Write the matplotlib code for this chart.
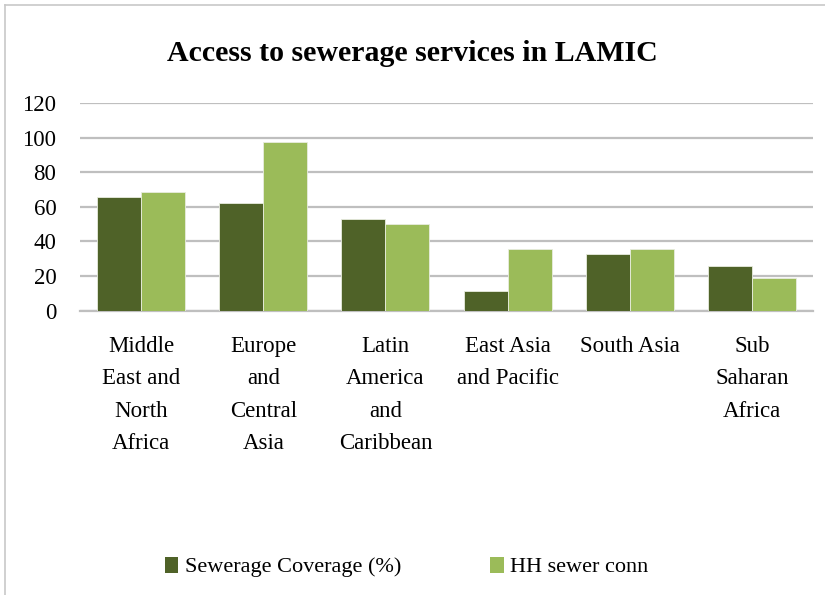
import numpy as np
import matplotlib.pyplot as plt
from matplotlib.patches import Patch
from matplotlib.lines import Line2D

plt.rcParams['font.family'] = ['Liberation Serif', 'DejaVu Serif']

# data
regions = ['Middle\nEast and\nNorth\nAfrica', 'Europe\nand\nCentral\nAsia',
           'Latin\nAmerica\nand\nCaribbean', 'East Asia\nand Pacific',
           'South Asia', 'Sub\nSaharan\nAfrica']
coverage = [66, 62, 53, 11.5, 33, 25.7]      # Sewerage Coverage (%)
hh_conn = [68.7, 97.7, 50, 35.6, 35.5, 18.8]  # HH sewer conn

dark = '#4F6228'
light = '#9BBB59'

fig = plt.figure(figsize=(8.25, 5.95), dpi=100)
ax = fig.add_axes([0.097, 0.478, 0.8885, 0.3486])

x = np.arange(len(regions))
w = 0.36
ax.bar(x - w/2, coverage, w, color=dark, edgecolor='#e8ecdf', linewidth=0.6, zorder=3)
ax.bar(x + w/2, hh_conn, w, color=light, edgecolor='#e8ecdf', linewidth=0.6, zorder=3)

ax.set_xlim(-0.5, len(regions) - 0.5)
ax.set_ylim(0, 120)
ax.set_yticks(range(0, 121, 20))
ax.yaxis.grid(True, color='#BFBFBF', linewidth=1.6, zorder=0)
ax.set_axisbelow(True)
for s in ['top', 'right', 'left']:
    ax.spines[s].set_visible(False)
ax.spines['bottom'].set_color('#BFBFBF')
ax.spines['bottom'].set_linewidth(1.6)
ax.tick_params(axis='y', length=0, labelsize=16.5, pad=17)
ax.tick_params(axis='x', length=0, labelsize=16.5, pad=18)
ax.set_xticks(x)
ax.set_xticklabels(regions, linespacing=1.72)

fig.text(0.5, 0.91, 'Access to sewerage services in LAMIC', ha='center', va='center',
         fontsize=21.5, fontweight='bold')

# legend
handles = [Patch(facecolor=dark, label='Sewerage Coverage (%)'),
           Patch(facecolor=light, label='HH sewer conn')]
fig.legend(handles=handles, loc='center', bbox_to_anchor=(0.493, 0.047), ncol=2,
           frameon=False, fontsize=16, handlelength=0.6, handleheight=0.75,
           handletextpad=0.3, columnspacing=4.0)

# chart border (left and top edges)
fig.add_artist(Line2D([5/825, 5/825], [0, 1 - 5/595], transform=fig.transFigure,
                      color='#C8C8C8', linewidth=1.2))
fig.add_artist(Line2D([5/825, 1], [1 - 5/595, 1 - 5/595], transform=fig.transFigure,
                      color='#C8C8C8', linewidth=1.2))

fig.savefig('out.png', dpi=100, facecolor='white')
